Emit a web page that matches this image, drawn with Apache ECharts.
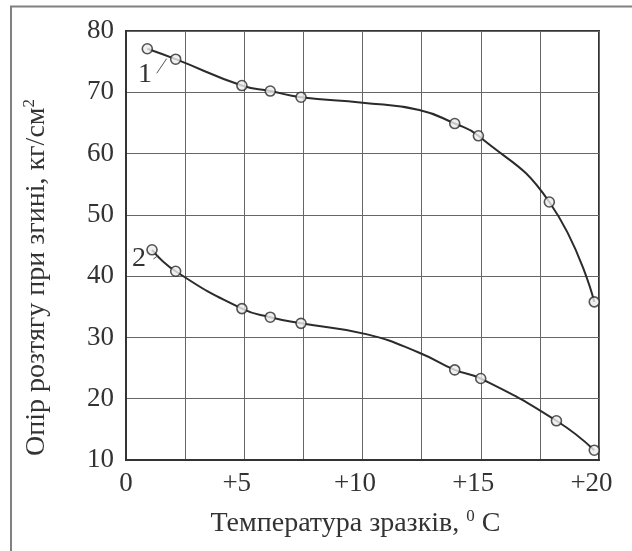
<!DOCTYPE html>
<html>
<head>
<meta charset="utf-8">
<script src="https://cdn.jsdelivr.net/npm/echarts@6/dist/echarts.min.js"></script>
<style>html,body{margin:0;padding:0;background:#fff;}#c{width:632px;height:551px;}</style>
</head>
<body>
<div id="c"></div>
<script>
// Curve 1 — measured points (with markers)
const temp1 = [0.9, 2.1, 4.9, 6.1, 7.4, 13.9, 14.9, 17.9, 19.8];
const res1 = [77.1, 75.4, 71.1, 70.2, 69.2, 64.9, 62.9, 52.1, 35.8];
// Curve 1 — points on the drawn curve without markers
const curveTemp1 = [10.0, 12.4];
const curveRes1 = [68.3, 67.1];
// Curve 2 — measured points
const temp2 = [1.1, 2.1, 4.9, 6.1, 7.4, 13.9, 15.0, 18.2, 19.8];
const res2 = [44.3, 40.8, 34.7, 33.3, 32.3, 24.7, 23.3, 16.4, 11.6];
// Curve 2 — points on the drawn curve without markers
const curveTemp2 = [10.2, 12.4];
const curveRes2 = [30.5, 27.5];
// Axis ticks
const xTickLabels = [0, 5, 10, 15, 20];
const yTickLabels = [10, 20, 30, 40, 50, 60, 70, 80];

const FONT = "'Liberation Serif', 'Times New Roman', serif";
const INK = '#2b2b2b';

function mergeCurve(xs, ys, cx, cy) {
  const pts = xs.map((x, i) => [x, ys[i]]).concat(cx.map((x, i) => [x, cy[i]]));
  pts.sort((a, b) => a[0] - b[0]);
  return pts;
}
function pairs(xs, ys) { return xs.map((x, i) => [x, ys[i]]); }

const chart = echarts.init(document.getElementById('c'), null, {renderer: 'canvas'});

const lineStyle = {color: INK, width: 2};
const markerStyle = {color: '#ececec', borderColor: INK, borderWidth: 1.6};

chart.setOption({
  backgroundColor: '#fff',
  animation: false,
  grid: {left: 126, top: 31, right: 33, bottom: 91, show: true, borderColor: '#333', borderWidth: 2, backgroundColor: 'transparent'},
  xAxis: {
    type: 'value', min: 0, max: 20, interval: 2.5,
    axisLine: {show: true, lineStyle: {color: '#333', width: 2}},
    axisTick: {show: false},
    splitLine: {show: true, lineStyle: {color: '#666', width: 1}},
    axisLabel: {
      margin: 10,
      color: '#333',
      fontFamily: FONT, fontSize: 27,
      formatter: function (v) {
        if (xTickLabels.indexOf(v) < 0) return '';
        if (v === 0) return '{n|0}';
        return '{n|+' + v + '}{p| }';
      },
      rich: {
        n: {fontFamily: FONT, fontSize: 27, color: '#333'},
        p: {fontFamily: FONT, fontSize: 27, width: 15}
      }
    },
    name: '{a|Температура зразків, }{s|0}{a| C}',
    nameLocation: 'middle', nameGap: 48,
    nameTextStyle: {
      padding: [0, 14, 0, 0],
      rich: {
        a: {fontFamily: FONT, fontSize: 28, color: '#333'},
        s: {fontFamily: FONT, fontSize: 17, color: '#333', padding: [0, 0, 14, 0]}
      }
    }
  },
  yAxis: {
    type: 'value', min: 10, max: 80, interval: 10,
    axisLine: {show: true, lineStyle: {color: '#333', width: 2}},
    axisTick: {show: false},
    splitLine: {show: true, lineStyle: {color: '#666', width: 1}},
    axisLabel: {
      margin: 12, color: '#333', fontFamily: FONT, fontSize: 27,
      formatter: function (v) { return yTickLabels.indexOf(v) >= 0 ? String(v) : ''; }
    },
    name: '{a|Опір розтягу при згині, кг/см}{s|2}',
    nameLocation: 'middle', nameGap: 74, nameRotate: 90,
    nameTextStyle: {
      padding: [0, 64, 0, 0],
      rich: {
        a: {fontFamily: FONT, fontSize: 28, color: '#333'},
        s: {fontFamily: FONT, fontSize: 17, color: '#333', padding: [0, 0, 14, 0]}
      }
    }
  },
  series: [
    {type: 'line', smooth: 0.5, data: mergeCurve(temp1, res1, curveTemp1, curveRes1), showSymbol: false, symbol: 'none', lineStyle: lineStyle, z: 3},
    {type: 'line', smooth: 0.5, data: mergeCurve(temp2, res2, curveTemp2, curveRes2), showSymbol: false, symbol: 'none', lineStyle: lineStyle, z: 3},
    {type: 'scatter', data: pairs(temp1, res1), symbol: 'circle', symbolSize: 10, itemStyle: markerStyle, z: 5},
    {type: 'scatter', data: pairs(temp2, res2), symbol: 'circle', symbolSize: 10, itemStyle: markerStyle, z: 5}
  ]
});

// Curve labels and leader lines, positioned in data coordinates
function px(p) { return chart.convertToPixel({gridIndex: 0}, p); }
const lab1 = px([0.8, 72.8]), lab2 = px([0.55, 42.8]);
const l1a = px([1.3, 73.1]), l1b = px([1.72, 75.5]);
const l2a = px([1.16, 42.8]), l2b = px([1.37, 43.4]);
chart.setOption({
  graphic: [
    {type: 'rect', shape: {x: 11, y: 6.5, width: 700, height: 700}, style: {fill: 'none', stroke: '#808080', lineWidth: 2}, silent: true, z: 0},
    {type: 'text', x: lab1[0], y: lab1[1], style: {text: '1', font: '28px ' + FONT, fill: '#333', textAlign: 'center', textVerticalAlign: 'middle'}, z: 10},
    {type: 'text', x: lab2[0], y: lab2[1], style: {text: '2', font: '28px ' + FONT, fill: '#333', textAlign: 'center', textVerticalAlign: 'middle'}, z: 10},
    {type: 'line', shape: {x1: l1a[0], y1: l1a[1], x2: l1b[0], y2: l1b[1]}, style: {stroke: '#555', lineWidth: 1}, z: 10},
    {type: 'line', shape: {x1: l2a[0], y1: l2a[1], x2: l2b[0], y2: l2b[1]}, style: {stroke: '#555', lineWidth: 1}, z: 10}
  ]
});
</script>
</body>
</html>
